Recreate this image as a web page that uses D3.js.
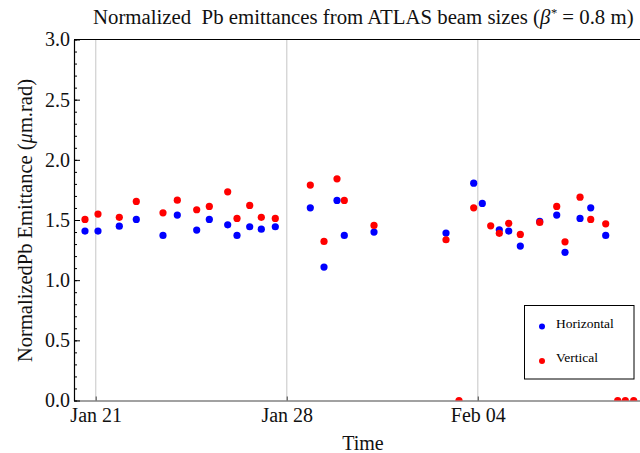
<!DOCTYPE html>
<html>
<head>
<meta charset="utf-8">
<script src="https://cdn.jsdelivr.net/npm/d3@7"></script>
<style>
  html, body { margin: 0; padding: 0; background: #fff; }
  svg { display: block; }
</style>
</head>
<body>
<svg id="chart" width="640" height="453" font-family="Liberation Serif"></svg>
<script>
// Horizontal emittance samples (UTC timestamps, µm.rad)
const hTimes = [
  "2013-01-20T14:35", "2013-01-21T02:01", "2013-01-21T20:45", "2013-01-22T11:43",
  "2013-01-23T11:11", "2013-01-23T23:46", "2013-01-24T16:49", "2013-01-25T03:55",
  "2013-01-25T20:05", "2013-01-26T04:16", "2013-01-26T15:26", "2013-01-27T01:38",
  "2013-01-27T13:57",
  "2013-01-28T20:44", "2013-01-29T08:47", "2013-01-29T20:13", "2013-01-30T02:38",
  "2013-01-31T04:45",
  "2013-02-02T20:04", "2013-02-03T20:25", "2013-02-04T03:59", "2013-02-04T18:56",
  "2013-02-05T03:13", "2013-02-05T13:25", "2013-02-06T06:29", "2013-02-06T21:26",
  "2013-02-07T04:44", "2013-02-07T17:56", "2013-02-08T03:20", "2013-02-08T16:31"
];
const hValues = [
  1.408, 1.408, 1.449, 1.505,
  1.372, 1.541, 1.416, 1.505,
  1.460, 1.372, 1.444, 1.424,
  1.444,
  1.601, 1.109, 1.663, 1.372,
  1.400,
  1.391, 1.806, 1.638, 1.419,
  1.408, 1.283, 1.488, 1.541,
  1.231, 1.513, 1.601, 1.372
];

// Vertical emittance samples (UTC timestamps, µm.rad)
const vTimes = [
  "2013-01-20T14:35", "2013-01-21T02:01", "2013-01-21T20:45", "2013-01-22T11:43",
  "2013-01-23T11:11", "2013-01-23T23:46", "2013-01-24T16:49", "2013-01-25T03:55",
  "2013-01-25T20:05", "2013-01-26T04:16", "2013-01-26T15:26", "2013-01-27T01:38",
  "2013-01-27T13:57",
  "2013-01-28T20:44", "2013-01-29T08:47", "2013-01-29T20:13", "2013-01-30T02:38",
  "2013-01-31T04:45",
  "2013-02-02T20:04", "2013-02-03T07:29", "2013-02-03T20:25", "2013-02-04T11:22",
  "2013-02-04T18:56", "2013-02-05T03:13", "2013-02-05T13:25", "2013-02-06T06:29",
  "2013-02-06T21:26", "2013-02-07T04:44", "2013-02-07T17:56", "2013-02-08T03:20",
  "2013-02-08T16:31", "2013-02-09T03:04", "2013-02-09T09:45", "2013-02-09T17:08"
];
const vValues = [
  1.505, 1.549, 1.522, 1.654,
  1.560, 1.665, 1.585, 1.613,
  1.734, 1.513, 1.621, 1.522,
  1.513,
  1.790, 1.322, 1.842, 1.663,
  1.455,
  1.336, 0.000, 1.601, 1.452,
  1.389, 1.472, 1.380, 1.480,
  1.613, 1.319, 1.690, 1.505,
  1.468, 0.000, 0.000, 0.000
];

// Axis ticks
const xTickDates = ["2013-01-21", "2013-01-28", "2013-02-04"];
const yMajorTicks = [0, 0.5, 1.0, 1.5, 2.0, 2.5, 3.0];
const yMinorTicks = d3.range(0, 3.0001, 0.1);

const seriesNames = ["Horizontal", "Vertical"];
const seriesColors = ["#0000ff", "#ff0000"];

const FONT = "Liberation Serif";
const parseTime = d3.utcParse("%Y-%m-%dT%H:%M");
const parseDay = d3.utcParse("%Y-%m-%d");

const plot = { left: 74, right: 645, top: 39.5, bottom: 400.5 };

const x = d3.scaleUtc()
  .domain([parseTime("2013-01-20T04:55"), parseTime("2013-02-10T03:04")])
  .range([plot.left, plot.right]);
const y = d3.scaleLinear().domain([0, 3]).range([plot.bottom, plot.top]);

const svg = d3.select("#chart");

svg.append("defs").append("clipPath").attr("id", "plotClip")
  .append("rect")
  .attr("x", plot.left).attr("y", plot.top)
  .attr("width", plot.right - plot.left).attr("height", plot.bottom - plot.top);

// vertical grid lines at the date ticks
const xTicks = xTickDates.map(parseDay);
svg.append("g").selectAll("line").data(xTicks).join("line")
  .attr("x1", d => x(d)).attr("x2", d => x(d))
  .attr("y1", plot.top).attr("y2", plot.bottom)
  .attr("stroke", "#d6d6d6").attr("stroke-width", 1.4);

// frame: top edge
svg.append("line")
  .attr("x1", plot.left).attr("x2", plot.right)
  .attr("y1", plot.top).attr("y2", plot.top)
  .attr("stroke", "#000").attr("stroke-width", 1);

// bottom axis
const xAxis = d3.axisBottom(x)
  .tickValues(xTicks)
  .tickFormat(d3.utcFormat("%b %d"))
  .tickSizeInner(-4).tickSizeOuter(0).tickPadding(10);
const gx = svg.append("g").attr("transform", `translate(0,${plot.bottom})`).call(xAxis);
gx.attr("font-family", FONT);
gx.select(".domain").attr("stroke", "#444").attr("stroke-width", 1.2);
gx.selectAll(".tick line").attr("stroke", "#444");
gx.selectAll(".tick text")
  .attr("font-family", FONT).attr("font-size", 20).attr("fill", "#111")
  .attr("dy", "0.55em");

// left axis: minor ticks, then major ticks with labels
const gyMinor = svg.append("g").attr("transform", `translate(${plot.left},0)`)
  .call(d3.axisLeft(y).tickValues(yMinorTicks).tickSizeInner(-3).tickSizeOuter(0).tickFormat(""));
gyMinor.select(".domain").remove();
gyMinor.selectAll(".tick line").attr("stroke", "#000");

const gy = svg.append("g").attr("transform", `translate(${plot.left},0)`)
  .call(d3.axisLeft(y).tickValues(yMajorTicks).tickFormat(d3.format(".1f"))
    .tickSizeInner(-6).tickSizeOuter(0).tickPadding(4));
gy.attr("font-family", FONT);
gy.select(".domain").attr("stroke", "#000").attr("stroke-width", 1.2);
gy.selectAll(".tick line").attr("stroke", "#000");
gy.selectAll(".tick text")
  .attr("font-family", FONT).attr("font-size", 20).attr("fill", "#111")
  .attr("x", -4);

// points: horizontal first, vertical on top
const hData = hTimes.map((t, i) => ({ t: parseTime(t), v: hValues[i] }));
const vData = vTimes.map((t, i) => ({ t: parseTime(t), v: vValues[i] }));
const pts = svg.append("g").attr("clip-path", "url(#plotClip)");
[hData, vData].forEach((data, k) => {
  pts.append("g").selectAll("circle").data(data).join("circle")
    .attr("cx", d => x(d.t)).attr("cy", d => y(d.v))
    .attr("r", 3.6).attr("fill", seriesColors[k]);
});

// legend
const lg = svg.append("g").attr("transform", "translate(524.5,305.5)");
lg.append("rect").attr("width", 109.5).attr("height", 73.5)
  .attr("fill", "#fff").attr("stroke", "#000").attr("stroke-width", 1);
seriesNames.forEach((name, k) => {
  const cy = 21 + k * 34.5;
  lg.append("circle").attr("cx", 17.5).attr("cy", cy).attr("r", 3).attr("fill", seriesColors[k]);
  lg.append("text").attr("x", 31.5).attr("y", cy).attr("dy", "0.1em")
    .attr("font-family", FONT).attr("font-size", 13.5).attr("fill", "#000").text(name);
});

// Styled label laid out as consecutive <text> runs inside a group.
// align: "start" puts the first run at 0, "middle" centres the whole line on 0.
function runLabel(parent, runs, transform, align, baseSize) {
  const g = parent.append("g").attr("transform", transform);
  let cursor = 0;
  const nodes = runs.map(r => {
    const t = g.append("text")
      .attr("font-family", r.font || FONT)
      .attr("font-size", r.size || baseSize)
      .attr("font-style", r.italic ? "italic" : "normal")
      .attr("fill", "#111")
      .attr("y", r.dy || 0)
      .attr("x", cursor)
      .text(r.text);
    t.style("white-space", "pre");
    cursor += t.node().getComputedTextLength() + (r.gap || 0);
    return t;
  });
  if (align === "middle") {
    nodes.forEach(t => t.attr("x", +t.attr("x") - cursor / 2));
  }
  return g;
}

// title
runLabel(svg, [
  { text: "Normalized  Pb emittances from ATLAS beam sizes (" },
  { text: "β", italic: true, gap: 0.5 },
  { text: "*", size: 12.5, dy: -7 },
  { text: " = 0.8 m)" }
], "translate(93,23.5)", "start", 20.8);

// axis titles
svg.append("text").attr("x", 363).attr("y", 450)
  .attr("font-family", FONT)
  .attr("text-anchor", "middle").attr("font-size", 20).attr("fill", "#111").text("Time");

runLabel(svg, [
  { text: "NormalizedPb Emittance (" },
  { text: "μ", italic: true },
  { text: "m.rad)" }
], "translate(32,220.5) rotate(-90)", "middle", 20.5);
</script>
</body>
</html>
